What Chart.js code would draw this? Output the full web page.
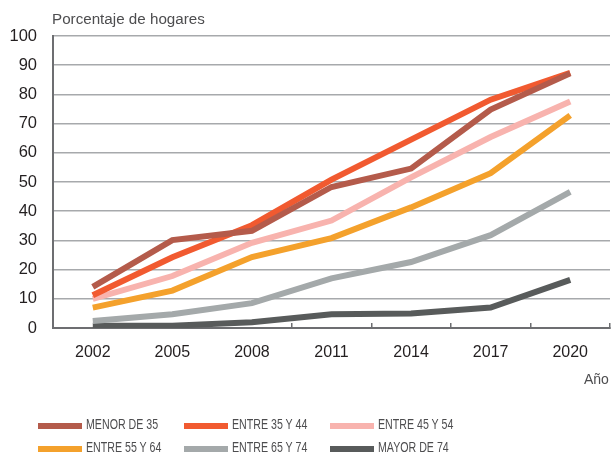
<!DOCTYPE html>
<html>
<head>
<meta charset="utf-8">
<script src="https://cdn.jsdelivr.net/npm/chart.js@4/dist/chart.umd.min.js"></script>
<style>
  html, body { margin: 0; padding: 0; background: #fff; }
  #wrap { position: relative; width: 614px; height: 457px; font-family: "Liberation Sans", Arial, sans-serif; }
  #chart { position: absolute; left: 0; top: 0; }
  .ytitle { position: absolute; left: 52px; top: 10px; font-size: 15.2px; color: #4d4d4f; }
  .xtitle { position: absolute; left: 584px; top: 371px; font-size: 14px; color: #4d4d4f; }
  .legend-item { position: absolute; height: 16px; }
  .legend-item .sw { position: absolute; left: 0; top: 5px; width: 44px; height: 6px; }
  .legend-item .lb { position: absolute; left: 48px; top: -2px; white-space: nowrap; font-size: 14px; color: #4d4d4f; transform: scaleX(0.76); transform-origin: 0 50%; }
</style>
</head>
<body>
<div id="wrap">
  <canvas id="chart" width="614" height="457"></canvas>
  <div class="ytitle">Porcentaje de hogares</div>
  <div class="xtitle">Año</div>
  <div id="legend"></div>
</div>
<script>
/* Households with internet access by age of head of household */

const years = ['2002', '2005', '2008', '2011', '2014', '2017', '2020'];

const menor35   = [14.1, 30.1, 33.3, 48.3, 54.6, 74.8, 87.2];
const entre3544 = [11.2, 24.2, 35.2, 50.8, 64.5, 78.2, 87.4];
const entre4554 = [10.0, 17.8, 29.2, 36.8, 51.6, 65.4, 77.6];
const entre5564 = [7.0, 12.8, 24.3, 30.8, 41.3, 53.0, 72.8];
const entre6574 = [2.4, 4.7, 8.5, 17.0, 22.6, 31.8, 46.6];
const mayor74   = [0.8, 0.8, 2.0, 4.7, 5.0, 7.0, 16.5];

const seriesNames = ['MENOR DE 35', 'ENTRE 35 Y 44', 'ENTRE 45 Y 54', 'ENTRE 55 Y 64', 'ENTRE 65 Y 74', 'MAYOR DE 74'];
const seriesData = [menor35, entre3544, entre4554, entre5564, entre6574, mayor74];
const seriesColors = ['#b45b4b', '#f15a30', '#f8b3ae', '#f4a12c', '#a4a9aa', '#585b5b'];

const yTicks = [0, 10, 20, 30, 40, 50, 60, 70, 80, 90, 100];

// legend in html: 3 columns, 2 rows
const legendCols = [38, 184, 330];
const legendRows = [418, 441];
const legendEl = document.getElementById('legend');
seriesNames.forEach((name, i) => {
  const item = document.createElement('div');
  item.className = 'legend-item';
  item.style.left = legendCols[i % 3] + 'px';
  item.style.top = legendRows[Math.floor(i / 3)] + 'px';
  item.innerHTML = `<div class="sw" style="background:${seriesColors[i]}"></div><span class="lb">${name}</span>`;
  legendEl.appendChild(item);
});

new Chart(document.getElementById('chart'), {
  type: 'line',
  data: {
    labels: years,
    datasets: seriesData.map((d, i) => ({
      label: seriesNames[i],
      data: d,
      borderColor: seriesColors[i],
      backgroundColor: seriesColors[i],
      borderWidth: 6,
      pointRadius: 0,
      tension: 0,
      borderCapStyle: 'butt',
      borderJoinStyle: 'miter'
    }))
  },
  options: {
    responsive: false,
    animation: false,
    layout: { padding: { top: 36, right: 4, left: 0, bottom: 0 } },
    plugins: { legend: { display: false }, tooltip: { enabled: false } },
    scales: {
      x: {
        offset: true,
        grid: { offset: true, drawOnChartArea: false, drawTicks: true, tickLength: -5, color: '#6d6e71', lineWidth: 1.5 },
        border: { color: '#6d6e71', width: 2 },
        ticks: { color: '#231f20', font: { family: 'Liberation Sans', size: 16 }, padding: 20, maxRotation: 0 },
        afterFit: s => { s.height = 129; }
      },
      y: {
        min: 0,
        max: 100,
        afterBuildTicks: s => { s.ticks = yTicks.map(v => ({ value: v })); },
        grid: { color: '#a7a9ac', lineWidth: 1.5, drawTicks: false },
        border: { color: '#6d6e71', width: 2 },
        ticks: { color: '#231f20', font: { family: 'Liberation Sans', size: 16.5 }, padding: 16 },
        afterFit: s => { s.width = 53; }
      }
    }
  }
});
</script>
</body>
</html>
